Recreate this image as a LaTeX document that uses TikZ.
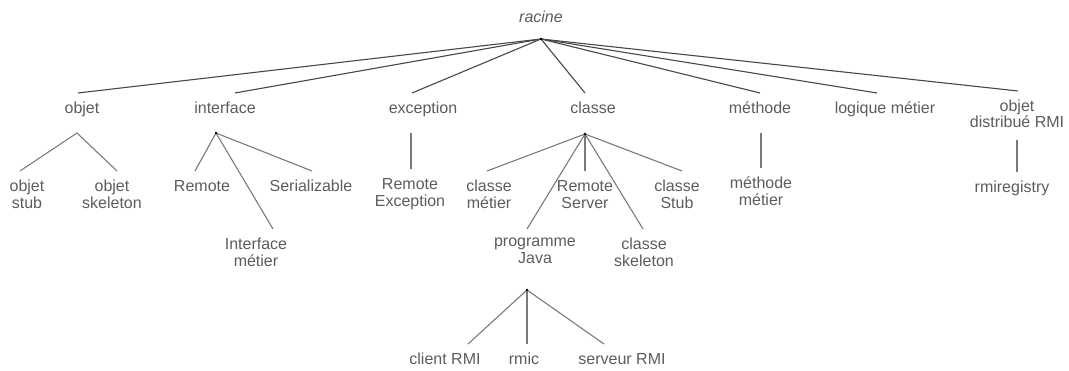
\documentclass[tikz,border=0pt]{standalone}
\usepackage{fontspec}
\setmainfont{Liberation Sans}
\newcommand{\branch}[4]{
\draw[#1] (#2) -- ([xshift=#4]#3.north);
}
\begin{document}
\begin{tikzpicture}[
x=1pt, y=-1pt,
% labels
lbl/.style={anchor=north, align=center, inner sep=0, outer xsep=0, outer ysep=9pt, text=black!64, font=\fontsize{16}{17}\selectfont, execute at begin node=\strut},
rootlbl/.style={lbl, anchor=base, font=\fontsize{16}{17}\selectfont\itshape},
% connectors
branch/.style={draw=black!52, line width=1.1pt},
rootbranch/.style={branch, draw=black!72},
hubdot/.style={fill=black}
]

\useasboundingbox (0,0) rectangle (1069,371);

% root
\node[rootlbl] (racine) at (541,23) {racine};
\coordinate (racinehub) at (541,39);

% level 1
\node[lbl] (objet) at (82,93) {objet};
\node[lbl] (iface) at (225,93) {interface};
\node[lbl] (excep) at (423,93) {exception};
\node[lbl] (classe) at (593,93) {classe};
\node[lbl] (methode) at (760,93) {méthode};
\node[lbl] (logique) at (885,93) {logique métier};
\node[lbl, font=\fontsize{16}{15.5}\selectfont] (objdist) at (1017,91) {objet\\\strut distribué RMI};

% hubs under level 1
\coordinate (objethub) at (77,133);
\coordinate (ifacehub) at (216,133);
\coordinate (excephub) at (411,133);
\coordinate (classehub) at (585,134);
\coordinate (methodehub) at (761,133);
\coordinate (objdisthub) at (1017,140);

% level 2
\node[lbl] (objstub) at (27,171) {objet\\\strut stub};
\node[lbl] (objskel) at (112,171) {objet\\\strut skeleton};
\node[lbl] (ifremote) at (202,171) {Remote};
\node[lbl] (ifserial) at (311,171) {Serializable};
\node[lbl] (ifmetier) at (256,229) {Interface\\\strut métier};
\node[lbl] (remexcep) at (410,169) {Remote\\\strut Exception};
\node[lbl] (clmetier) at (489,171) {classe\\\strut métier};
\node[lbl] (clremote) at (585,171) {Remote\\\strut Server};
\node[lbl] (clstub) at (677,171) {classe\\\strut Stub};
\node[lbl] (clprog) at (535,229) {programme\\\strut Java};
\node[lbl] (clskel) at (644,229) {classe\\\strut skeleton};
\node[lbl] (methmetier) at (761,168) {méthode\\\strut métier};
\node[lbl] (rmireg) at (1012,172) {rmiregistry};

% level 3
\coordinate (proghub) at (527,290);
\node[lbl] (progclient) at (445,344) {client RMI};
\node[lbl] (progrmic) at (524,344) {rmic};
\node[lbl] (progserveur) at (622,344) {serveur RMI};

% root branches
\branch{rootbranch}{racinehub}{objet}{-4}
\branch{rootbranch}{racinehub}{iface}{10}
\branch{rootbranch}{racinehub}{excep}{-11}
\branch{rootbranch}{racinehub}{classe}{-8}
\branch{rootbranch}{racinehub}{methode}{0}
\branch{rootbranch}{racinehub}{logique}{-8}
\branch{rootbranch}{racinehub}{objdist}{1}

% objet
\branch{branch}{objethub}{objstub}{-7}
\branch{branch}{objethub}{objskel}{5}

% interface
\branch{branch}{ifacehub}{ifremote}{-7}
\branch{branch}{ifacehub}{ifserial}{1}
\branch{branch}{ifacehub}{ifmetier}{17}

% exception
\branch{branch}{excephub}{remexcep}{1}

% classe
\branch{branch}{classehub}{clmetier}{-2}
\branch{branch}{classehub}{clremote}{0}
\branch{branch}{classehub}{clstub}{5}
\branch{branch}{classehub}{clprog}{-8}
\branch{branch}{classehub}{clskel}{-1}

% methode, objet distribue
\branch{branch}{methodehub}{methmetier}{0}
\branch{branch}{objdisthub}{rmireg}{5}

% programme Java
\branch{branch}{proghub}{progclient}{23}
\branch{branch}{proghub}{progrmic}{3}
\branch{branch}{proghub}{progserveur}{-18}

% hub dots
\foreach \h in {racinehub, ifacehub, classehub, proghub}
  \fill[hubdot] (\h) circle (1.3pt);

\end{tikzpicture}
\end{document}
